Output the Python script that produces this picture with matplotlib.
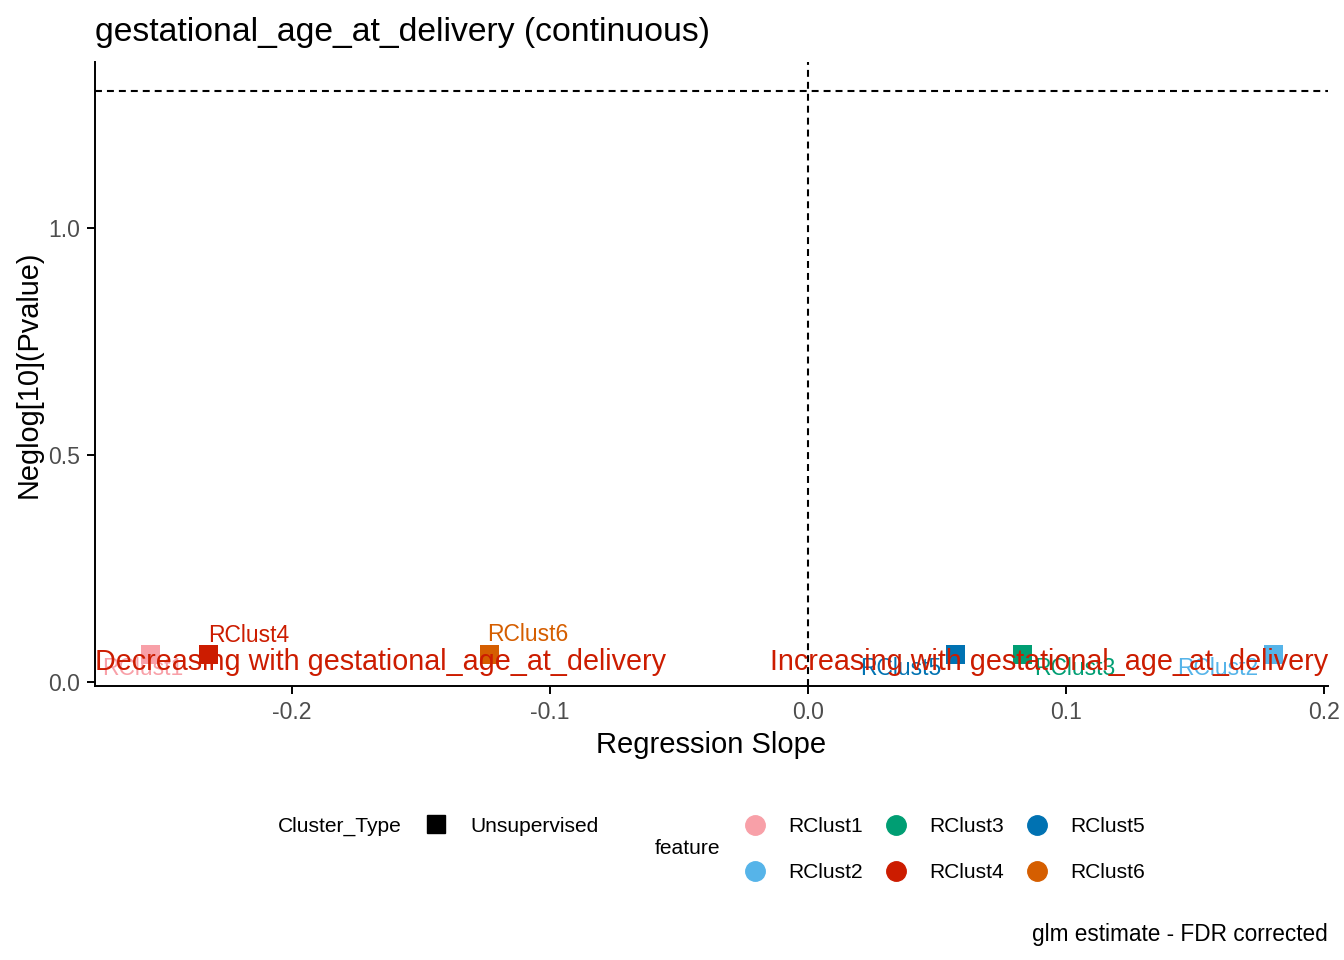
import matplotlib
matplotlib.use("Agg")
import matplotlib.pyplot as plt
from matplotlib.lines import Line2D
import numpy as np

plt.rcParams['font.family'] = ['Liberation Sans', 'DejaVu Sans']

# ---- data ----
features = ["RClust1", "RClust2", "RClust3", "RClust4", "RClust5", "RClust6"]
slopes = [-0.2548, 0.1803, 0.0830, -0.2325, 0.0572, -0.1236]
neglogp = [0.060, 0.060, 0.060, 0.060, 0.060, 0.060]
colors = ["#F8A0A8", "#56B4E9", "#009E73", "#CC1C00", "#0072B2", "#D55E00"]
# label offsets (pixels) as placed by a repel algorithm
label_dx = [-8, -55, 53, 40, -55, 39]
label_dy = [-14, -14, -14, 19, -14, 20]
sig_line = -np.log10(0.05)
trait = "gestational_age_at_delivery"
anno_color = "#CC1C00"

fig = plt.figure(figsize=(13.44, 9.6), dpi=100)
ax = fig.add_axes([95/1344, 1-686/960, (1328-95)/1344, (686-62)/960])

ax.set_xlim(-0.2764, 0.2016)
ax.set_ylim(-4/454, 620/454)

lw = 1.5
ax.axhline(sig_line, color="black", lw=lw, linestyle=(0, (5/lw, 3.6/lw)), zorder=1)
ax.axvline(0, color="black", lw=lw, linestyle=(0, (5/lw, 3.6/lw)), zorder=1)

for f, x, y, c, dx, dy in zip(features, slopes, neglogp, colors, label_dx, label_dy):
    ax.scatter([x], [y], marker="s", s=185, color=c, edgecolors="none", zorder=3)
    ax.annotate(f, (x, y), xytext=(dx, dy), textcoords="offset pixels",
                ha="center", va="center", color=c, fontsize=16.5, zorder=4)

xl = ax.get_xlim()
ax.text(xl[0], 0.044, f"Decreasing with {trait}", ha="left", va="center",
        color=anno_color, fontsize=20.7, zorder=5)
ax.text(xl[1], 0.044, f"Increasing with {trait}", ha="right", va="center",
        color=anno_color, fontsize=20.7, zorder=5)

for s in ["top", "right"]:
    ax.spines[s].set_visible(False)
for s in ["left", "bottom"]:
    ax.spines[s].set_linewidth(1.4)
ax.set_xticks([-0.2, -0.1, 0.0, 0.1, 0.2])
ax.set_xticklabels(["-0.2", "-0.1", "0.0", "0.1", "0.2"])
ax.set_yticks([0.0, 0.5, 1.0])
ax.set_yticklabels(["0.0", "0.5", "1.0"])
ax.tick_params(axis="both", labelsize=16.6, colors="#4D4D4D", length=6, width=1.4, pad=5)
ax.tick_params(axis="both", color="black")

ax.set_xlabel("Regression Slope", fontsize=21, labelpad=5)
ax.set_ylabel("Neglog[10](Pvalue)", fontsize=20.8, labelpad=4)
fig.text(95/1344, 1-33/960, f"{trait} (continuous)", fontsize=24.3, ha="left", va="center")
fig.text(1328/1344, 1-934/960, "glm estimate - FDR corrected", fontsize=16.3, ha="right", va="center")

# ---- legends ----
def fy(py):
    return 1 - py/960
def fx(px):
    return px/1344

lfs = 15.1
fig.text(fx(278), fy(826), "Cluster_Type", fontsize=lfs, ha="left", va="center")
fig.add_artist(Line2D([fx(436)], [fy(824)], marker="s", markersize=12.5, color="black",
                      linestyle="none", transform=fig.transFigure))
fig.text(fx(470), fy(826), "Unsupervised", fontsize=lfs, ha="left", va="center")

fig.text(fx(655), fy(849), "feature", fontsize=lfs, ha="left", va="center")
key_x = [755, 755, 896, 896, 1037, 1037]
key_y = [826, 872, 826, 872, 826, 872]
for f, c, kx, ky in zip(features, colors, key_x, key_y):
    fig.add_artist(Line2D([fx(kx)], [fy(ky - 1)], marker="o", markersize=14, color=c,
                          linestyle="none", transform=fig.transFigure))
    fig.text(fx(kx + 33), fy(ky), f, fontsize=lfs, ha="left", va="center")

fig.savefig("out.png", dpi=100)
